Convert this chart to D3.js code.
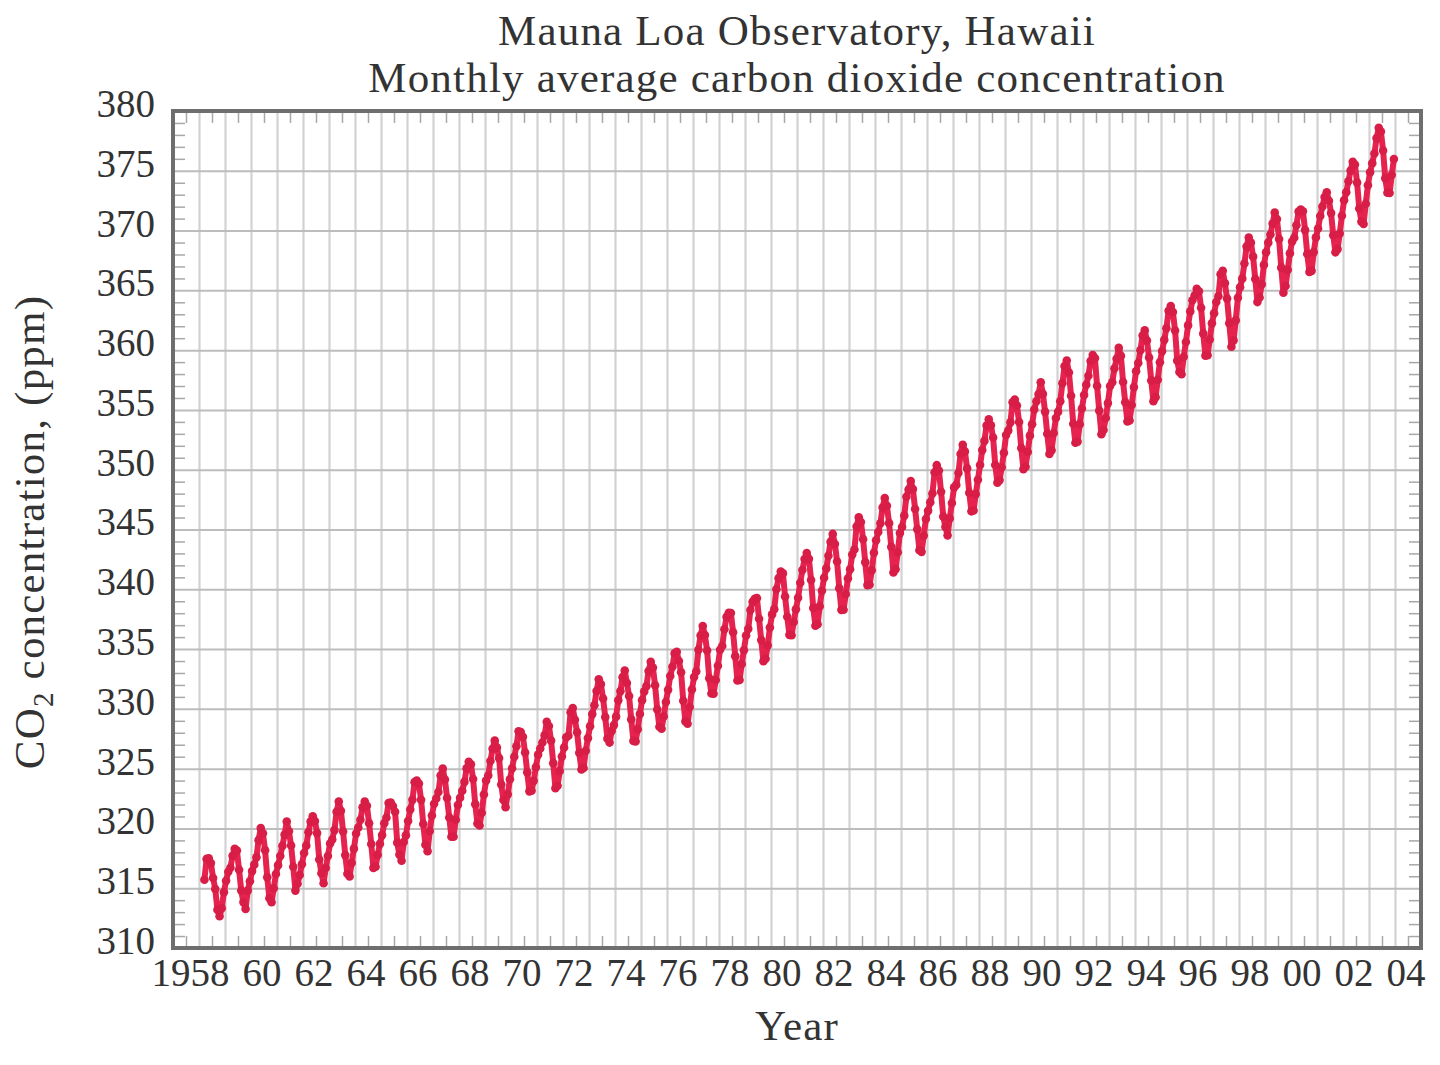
<!DOCTYPE html>
<html>
<head>
<meta charset="utf-8">
<script src="https://cdn.jsdelivr.net/npm/d3@7"></script>
<style>
body { margin: 0; background: #fff; }
text { font-family: "Liberation Serif", "Times New Roman", serif; fill: #333; }
</style>
</head>
<body>
<svg width="1440" height="1065"></svg>
<script>
// monthly means, Jan..Dec (1958 starts in March)
var years = d3.range(1958, 2004);
var ppm = [
[null,null,315.71,317.45,317.50,317.10,315.86,314.93,313.20,312.66,313.33,314.67],
[315.62,316.38,316.71,317.72,318.29,318.15,316.54,314.80,313.84,313.26,314.80,315.58],
[316.43,316.97,317.58,319.02,320.03,319.59,318.18,315.91,314.16,313.83,315.00,316.19],
[316.93,317.70,318.54,319.48,320.58,319.77,318.57,316.79,314.80,315.38,316.10,317.01],
[317.94,318.56,319.68,320.57,321.02,320.62,319.61,317.40,316.25,315.42,316.69,317.69],
[318.74,319.08,319.86,321.39,322.25,321.47,319.74,317.77,316.21,315.99,317.12,318.31],
[319.57,320.07,320.73,321.77,322.25,321.89,320.44,318.70,316.70,316.79,317.79,318.71],
[319.44,320.44,320.89,322.13,322.16,321.87,321.39,318.81,317.81,317.30,318.87,319.42],
[320.62,321.59,322.39,323.87,324.01,323.75,322.39,320.37,318.64,318.10,319.79,321.08],
[322.07,322.50,323.04,324.42,325.00,324.09,322.55,320.92,319.31,319.31,320.72,321.96],
[322.57,323.15,323.89,325.02,325.57,325.36,324.14,322.03,320.41,320.25,321.31,322.84],
[324.00,324.42,325.64,326.66,327.34,326.76,325.88,323.67,322.38,321.78,322.85,324.11],
[325.03,325.99,326.87,328.13,328.07,327.66,326.35,324.69,323.10,323.16,323.98,325.13],
[326.17,326.68,327.18,327.78,328.92,328.57,327.34,325.46,323.36,323.57,324.80,326.01],
[326.77,327.63,327.75,329.72,330.07,329.09,328.05,326.32,324.93,325.06,326.50,327.55],
[328.54,329.56,330.30,331.50,332.48,332.07,330.87,329.31,327.51,327.18,328.16,328.64],
[329.35,330.71,331.48,332.65,333.20,332.16,331.07,329.12,327.32,327.28,328.30,329.58],
[330.73,331.46,331.90,333.17,333.94,333.45,331.98,329.95,328.50,328.34,329.37,330.58],
[331.59,332.75,333.52,334.64,334.77,334.00,333.06,330.68,328.95,328.75,330.15,331.62],
[332.66,333.13,334.95,336.13,336.93,336.17,334.88,332.56,331.29,331.27,332.41,333.60],
[334.95,335.25,336.66,337.69,338.03,338.01,336.41,334.41,332.37,332.41,333.75,334.90],
[336.14,336.69,338.27,338.96,339.21,339.26,337.54,335.75,333.98,334.19,335.31,336.81],
[337.90,338.34,340.01,340.93,341.48,341.33,339.40,337.70,336.19,336.15,337.27,338.32],
[339.29,340.55,341.61,342.53,343.03,342.54,340.78,338.44,336.95,337.08,338.58,339.88],
[340.96,341.73,342.81,343.97,344.63,343.79,342.32,340.09,338.28,338.29,339.60,340.90],
[341.68,342.90,343.33,345.25,346.03,345.63,344.19,342.27,340.35,340.38,341.59,343.05],
[344.10,344.79,345.52,346.84,347.63,346.98,345.53,343.55,341.40,341.67,343.10,344.70],
[345.21,346.16,347.74,348.34,349.06,348.38,346.72,345.02,343.27,343.13,344.49,345.88],
[346.56,347.28,348.01,349.77,350.38,349.93,348.16,346.08,345.22,344.51,345.93,347.22],
[348.52,348.73,349.73,351.31,352.09,351.53,350.11,348.08,346.52,346.59,347.96,349.16],
[350.39,351.64,352.41,353.69,354.21,353.72,352.69,350.40,348.92,349.13,350.20,351.41],
[352.91,353.27,353.96,355.64,355.86,355.37,353.99,351.81,350.05,350.25,351.49,352.85],
[353.80,355.04,355.73,356.32,357.32,356.34,354.84,353.01,351.31,351.62,353.07,354.33],
[354.84,355.73,357.23,358.66,359.13,358.13,356.19,353.85,352.25,352.35,353.81,355.12],
[356.25,357.11,357.86,359.09,359.59,359.33,357.01,354.94,352.96,353.32,354.32,355.57],
[357.00,357.31,358.47,359.27,360.19,359.52,357.33,355.64,354.03,354.12,355.41,356.91],
[358.24,358.92,359.99,361.23,361.65,360.81,359.38,357.46,355.73,356.07,357.53,358.98],
[359.92,360.86,361.83,363.30,363.69,363.19,361.64,359.12,358.17,357.99,359.45,360.68],
[362.07,363.24,364.17,364.57,365.13,364.92,363.55,361.38,359.54,359.58,360.89,362.24],
[363.09,364.03,364.51,366.35,366.64,365.59,364.31,362.25,360.29,360.82,362.49,364.38],
[365.26,365.98,367.24,368.66,369.42,368.99,367.82,365.95,364.02,364.40,365.52,367.13],
[368.18,368.99,369.67,370.59,371.51,370.96,369.30,366.90,364.81,365.37,366.72,368.10],
[369.08,369.40,370.45,371.59,371.75,371.62,370.04,368.04,366.54,366.63,368.20,369.43],
[370.17,371.22,372.01,372.80,373.20,372.49,371.46,369.61,368.18,368.45,369.76,371.24],
[372.53,373.20,374.12,375.02,375.76,375.52,374.01,371.85,370.75,370.55,372.25,373.79],
[374.88,375.64,376.45,377.73,378.60,378.28,376.70,374.38,373.17,373.14,374.66,375.99]
];
var yTicks = d3.range(310, 381, 5);
var xTickYears = d3.range(1958, 2005, 2);
var xTickLabels = ["1958","60","62","64","66","68","70","72","74","76","78","80","82","84","86","88","90","92","94","96","98","00","02","04"];

var data = [];
years.forEach(function(y, i){
  ppm[i].forEach(function(v, m){
    if (v != null) data.push({t: y + (m + 0.5) / 12, v: v});
  });
});

var mLeft = 173, mRight = 1421, mTop = 111, mBottom = 948;
var width = mRight - mLeft, height = mBottom - mTop;

var xScale = d3.scaleLinear().domain([1957, 2005]).range([0, width]);
var yScale = d3.scaleLinear().domain([310, 380]).range([height, 0]);

var svg = d3.select("svg");
var g = svg.append("g").attr("transform", "translate(" + mLeft + "," + mTop + ")");

// vertical grid, one line per year
g.append("g").attr("class", "vgrid")
  .call(d3.axisBottom(xScale).tickValues(d3.range(1958, 2005)).tickSize(height).tickFormat(""))
  .call(function(s){ s.select(".domain").remove(); s.selectAll("line").attr("stroke", "#d2d2d2").attr("stroke-width", 2.2); });

// horizontal grid every 5 ppm
g.append("g").attr("class", "hgrid")
  .call(d3.axisLeft(yScale).tickValues(yTicks).tickSize(-width).tickFormat(""))
  .call(function(s){ s.select(".domain").remove(); s.selectAll("line").attr("stroke", "#bdbdbd").attr("stroke-width", 2); });

// minor ticks inside the frame
var minorY = d3.range(311, 380).filter(function(d){ return d % 5 != 0; });
var minorX = d3.range(1957.5, 2005, 1);
var minor = g.append("g").attr("class", "minor");
minor.append("g").call(d3.axisRight(yScale).tickValues(minorY).tickSize(12).tickFormat(""));
minor.append("g").attr("transform", "translate(" + width + ",0)")
  .call(d3.axisLeft(yScale).tickValues(minorY).tickSize(12).tickFormat(""));
minor.append("g").call(d3.axisBottom(xScale).tickValues(minorX).tickSize(12).tickFormat(""));
minor.append("g").attr("transform", "translate(0," + height + ")")
  .call(d3.axisTop(xScale).tickValues(minorX).tickSize(12).tickFormat(""));
minor.selectAll(".domain").remove();
minor.selectAll(".tick line").attr("stroke", "#a8a8a8").attr("stroke-width", 1.5);

// frame
g.append("rect").attr("width", width).attr("height", height)
  .attr("fill", "none").attr("stroke", "#6e6e6e").attr("stroke-width", 4);

// data
var line = d3.line().x(function(d){ return xScale(d.t); }).y(function(d){ return yScale(d.v); });
g.append("path").datum(data).attr("d", line)
  .attr("fill", "none").attr("stroke", "#e5234e").attr("stroke-width", 6).attr("stroke-linejoin", "round");
g.append("g").selectAll("circle").data(data).enter().append("circle")
  .attr("cx", function(d){ return xScale(d.t); })
  .attr("cy", function(d){ return yScale(d.v); })
  .attr("r", 4.3).attr("fill", "#d81d47");

// tick labels
var yAxis = d3.axisLeft(yScale).tickValues(yTicks).tickSize(0).tickPadding(18);
g.append("g").call(yAxis)
  .call(function(s){ s.select(".domain").remove();
    s.selectAll("text").attr("dy", "0.32em").attr("y", -7).style("font-size", "39px").style("font-family", "Liberation Serif").attr("fill", "#333"); });

var xAxis = d3.axisBottom(xScale).tickValues(xTickYears).tickSize(0).tickPadding(10)
  .tickFormat(function(d, i){ return xTickLabels[i]; });
g.append("g").attr("transform", "translate(0," + height + ")").call(xAxis)
  .call(function(s){ s.select(".domain").remove();
    s.selectAll("text").attr("text-anchor", "end").attr("x", 30).style("font-size", "39px").style("font-family", "Liberation Serif").attr("fill", "#333"); });

// titles
svg.append("text").attr("x", 797).attr("y", 45).attr("text-anchor", "middle")
  .style("font-size", "43px").style("letter-spacing", "1.2px").text("Mauna Loa Observatory, Hawaii");
svg.append("text").attr("x", 797).attr("y", 92).attr("text-anchor", "middle")
  .style("font-size", "43px").style("letter-spacing", "1.2px").text("Monthly average carbon dioxide concentration");
svg.append("text").attr("x", 797).attr("y", 1040).attr("text-anchor", "middle")
  .style("font-size", "43px").style("letter-spacing", "1.2px").text("Year");

var yt = svg.append("text").attr("transform", "translate(44,532) rotate(-90)").attr("text-anchor", "middle")
  .style("font-size", "43px").style("letter-spacing", "1.2px");
yt.append("tspan").text("CO");
yt.append("tspan").text("2").style("font-size", "29px").attr("dy", 9);
yt.append("tspan").text(" concentration, (ppm)").attr("dy", -9);
</script>
</body>
</html>
